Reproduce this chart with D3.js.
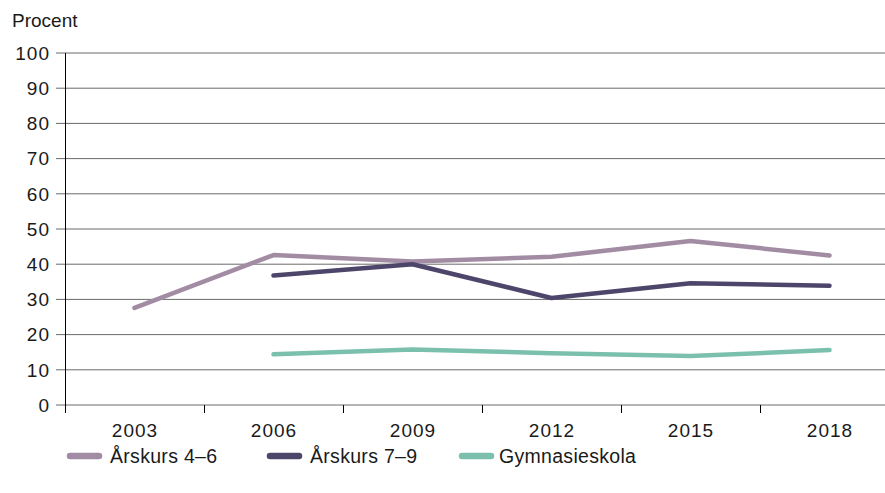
<!DOCTYPE html>
<html><head><meta charset="utf-8">
<script src="https://cdn.jsdelivr.net/npm/d3@7/dist/d3.min.js"></script>
<style>body{margin:0;background:#fff}svg{display:block}text{font-family:"Liberation Sans",Arial,sans-serif;fill:#1a1a1a}.num{letter-spacing:1px}</style>
</head><body><svg id="c" width="885" height="493"></svg>
<script>
const years = ["2003","2006","2009","2012","2015","2018"];
const yTicks = [0,10,20,30,40,50,60,70,80,90,100];
const seriesNames = ["Årskurs 4–6","Årskurs 7–9","Gymnasieskola"];
const colors = ["#a28ca4","#4e466a","#7bc0ad"];
const ak46 = [27.6, 42.6, 40.8, 42.1, 46.6, 42.5];
const ak79 = [null, 36.8, 40.0, 30.4, 34.6, 33.9];
const gymn = [null, 14.4, 15.8, 14.7, 13.9, 15.6];
const allSeries = [ak46, ak79, gymn];

const svg = d3.select("#c");
const x = d3.scaleBand().domain(years).range([65, 899]);
const y = d3.scaleLinear().domain([0,100]).range([405, 53]);

// grid
svg.append("g").selectAll("line").data(yTicks).join("line")
  .attr("x1",56).attr("x2",899).attr("y1",d=>y(d)).attr("y2",d=>y(d))
  .attr("stroke","#6a6a6a").attr("stroke-width",1);
svg.append("g").selectAll("text").data(yTicks).join("text").attr("class","num")
  .attr("x",50).attr("y",d=>y(d)).attr("dy","0.36em").attr("text-anchor","end")
  .attr("font-size",19).text(d=>d);
// y axis line
svg.append("line").attr("x1",65.5).attr("x2",65.5).attr("y1",53).attr("y2",405)
  .attr("stroke","#000").attr("stroke-width",1);
// x ticks
const bounds = years.map(d=>x(d));
svg.append("g").selectAll("line").data(bounds).join("line")
  .attr("x1",d=>Math.round(d)+0.5).attr("x2",d=>Math.round(d)+0.5).attr("y1",405).attr("y2",413)
  .attr("stroke","#000").attr("stroke-width",1);
svg.append("g").selectAll("text").data(years).join("text").attr("class","num")
  .attr("x",d=>x(d)+x.bandwidth()/2+0.5).attr("y",430).attr("dy","0.36em").attr("text-anchor","middle")
  .attr("font-size",19).text(d=>d);

svg.append("text").attr("x",12).attr("y",20).attr("dy","0.35em").attr("font-size",19).text("Procent");

const line = d3.line().defined(d=>d.v!=null).x(d=>x(d.k)+x.bandwidth()/2).y(d=>y(d.v));
allSeries.forEach((s,i)=>{
  svg.append("path").datum(years.map((k,j)=>({k,v:s[j]})))
    .attr("d",line).attr("fill","none").attr("stroke",colors[i])
    .attr("stroke-width",4.5).attr("stroke-linecap","round").attr("stroke-linejoin","round");
});

// legend
const lx = [67, 267, 459];
const tx = [110, 310, 499];
seriesNames.forEach((n,i)=>{
  svg.append("line").attr("x1",lx[i]+3).attr("x2",lx[i]+32).attr("y1",456).attr("y2",456)
    .attr("stroke",colors[i]).attr("stroke-width",6.5).attr("stroke-linecap","round");
  svg.append("text").attr("x",tx[i]).attr("y",456).attr("dy","0.35em").attr("font-size",19.5)
    .attr("letter-spacing","0.3px").text(n);
});
</script></body></html>
